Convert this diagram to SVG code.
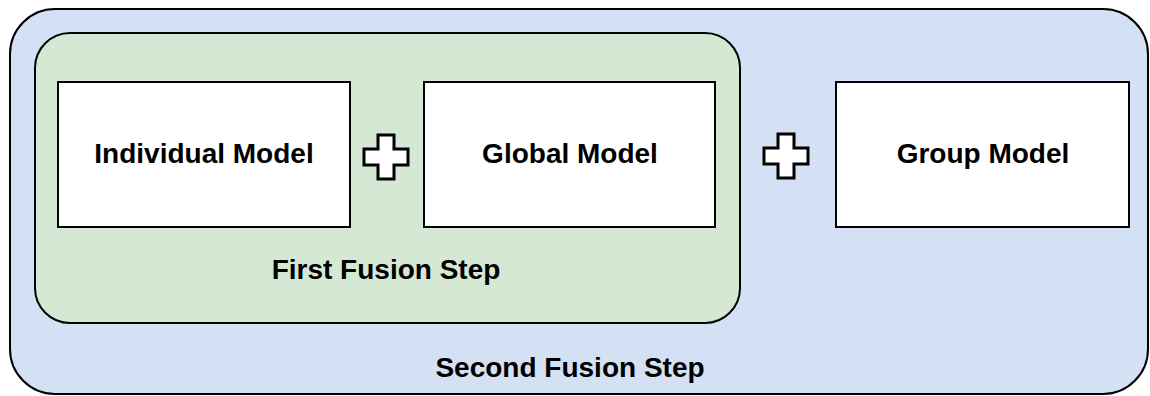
<svg xmlns="http://www.w3.org/2000/svg" width="1150" height="396" viewBox="0 0 1150 396">
  <style>
    .container { stroke: #000; stroke-width: 2; }
    .box { fill: #fff; stroke: #000; stroke-width: 2; }
    .label { font-family: "Liberation Sans", Arial, sans-serif; font-weight: bold; font-size: 28px; fill: #000; text-anchor: middle; }
    .plus { fill: #fff; stroke: #000; stroke-width: 3; stroke-linejoin: miter; }
  </style>
  <defs>
    <path id="plus-shape" d="M -8 -22 H 8 V -8 H 22 V 8 H 8 V 22 H -8 V 8 H -22 V -8 H -8 Z"/>
  </defs>

  <g id="second-fusion-step">
    <rect class="container" x="10" y="9" width="1138" height="385" rx="45" ry="45" fill="#d4e1f5"/>
    <text class="label" x="570" y="377">Second Fusion Step</text>
  </g>

  <g id="first-fusion-step">
    <rect class="container" x="35" y="33" width="705" height="290" rx="35" ry="35" fill="#d5e8d4"/>
    <text class="label" x="386" y="279">First Fusion Step</text>
  </g>

  <g id="individual-model">
    <rect class="box" x="58" y="82" width="292" height="145"/>
    <text class="label" x="204" y="163">Individual Model</text>
  </g>

  <g id="global-model">
    <rect class="box" x="424" y="82" width="291" height="145"/>
    <text class="label" x="570" y="163">Global Model</text>
  </g>

  <g id="group-model">
    <rect class="box" x="836" y="82" width="293" height="145"/>
    <text class="label" x="983" y="163">Group Model</text>
  </g>

  <g id="connectors">
    <use href="#plus-shape" class="plus" transform="translate(386 157)"/>
    <use href="#plus-shape" class="plus" transform="translate(786 156)"/>
  </g>
</svg>
